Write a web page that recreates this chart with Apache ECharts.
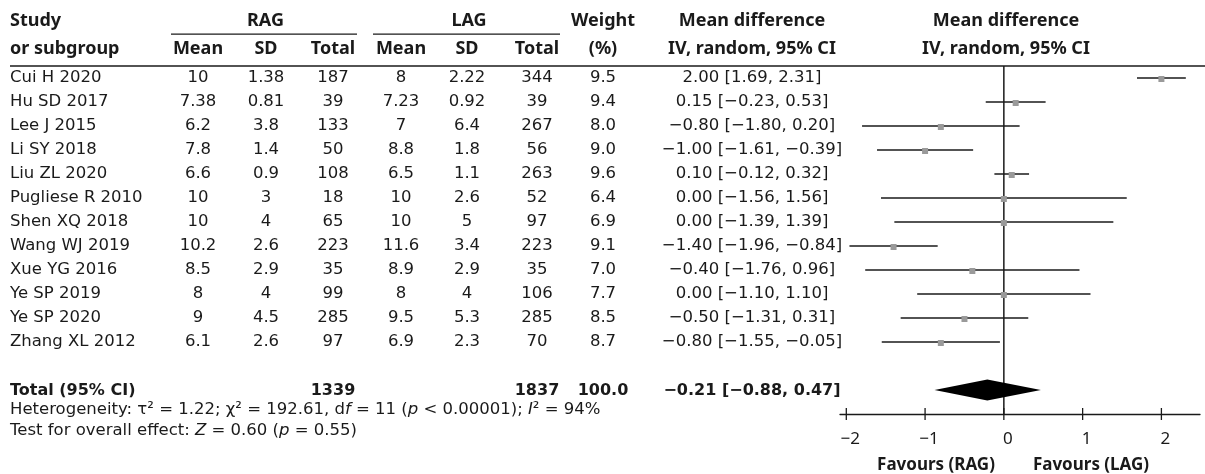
<!DOCTYPE html>
<html>
<head>
<meta charset="utf-8">
<script src="https://cdn.jsdelivr.net/npm/echarts@6/dist/echarts.min.js"></script>
<style>html,body{margin:0;padding:0;background:#fff}#c{width:1205px;height:474px}</style>
</head>
<body>
<div id="c"></div>
<script>
// ---------------- DATA ----------------
const studies = ['Cui H 2020','Hu SD 2017','Lee J 2015','Li SY 2018','Liu ZL 2020','Pugliese R 2010','Shen XQ 2018','Wang WJ 2019','Xue YG 2016','Ye SP 2019','Ye SP 2020','Zhang XL 2012'];
const ragMean  = ['10','7.38','6.2','7.8','6.6','10','10','10.2','8.5','8','9','6.1'];
const ragSD    = ['1.38','0.81','3.8','1.4','0.9','3','4','2.6','2.9','4','4.5','2.6'];
const ragTotal = ['187','39','133','50','108','18','65','223','35','99','285','97'];
const lagMean  = ['8','7.23','7','8.8','6.5','10','10','11.6','8.9','8','9.5','6.9'];
const lagSD    = ['2.22','0.92','6.4','1.8','1.1','2.6','5','3.4','2.9','4','5.3','2.3'];
const lagTotal = ['344','39','267','56','263','52','97','223','35','106','285','70'];
const weights  = ['9.5','9.4','8.0','9.0','9.6','6.4','6.9','9.1','7.0','7.7','8.5','8.7'];
const md       = [2.00, 0.15, -0.80, -1.00, 0.10, 0.00, 0.00, -1.40, -0.40, 0.00, -0.50, -0.80];
const ciLow    = [1.69, -0.23, -1.80, -1.61, -0.12, -1.56, -1.39, -1.96, -1.76, -1.10, -1.31, -1.55];
const ciHigh   = [2.31, 0.53, 0.20, -0.39, 0.32, 1.56, 1.39, -0.84, 0.96, 1.10, 0.31, -0.05];
const totalLabel = 'Total (95% CI)';
const totalRAG = '1339';
const totalLAG = '1837';
const totalWeight = '100.0';
const pooled = [-0.21, -0.88, 0.47]; // estimate, low, high
const xTicks = [-2, -1, 0, 1, 2];
const favours = ['Favours (RAG)', 'Favours (LAG)'];
const groupHeaders = ['RAG', 'LAG'];
const subHeaders = ['Mean', 'SD', 'Total'];
const heterogeneity = 'Heterogeneity: τ² = 1.22; χ² = 192.61, d{i|f} = 11 ({i|p} < 0.00001); {i|I}² = 94%';
const overall = 'Test for overall effect: {i|Z} = 0.60 ({i|p} = 0.55)';

// ---------------- LAYOUT / STYLE ----------------
const NOTO = '"Noto Sans", "Open Sans", sans-serif';
const DEJA = '"DejaVu Sans", sans-serif';
const INK = '#1a1a1a';
const FONTS = {
  hdr:  {fontFamily: NOTO, fontSize: 18, fontWeight: 'bold'},
  data: {fontFamily: DEJA, fontSize: 16.5, fontWeight: 'normal'},
  tot:  {fontFamily: DEJA, fontSize: 16, fontWeight: 'bold'},
  fav:  {fontFamily: NOTO, fontSize: 17, fontWeight: 'bold'}
};
const C = {study:10, rMean:198, rSD:266, rTot:333, lMean:401, lSD:467, lTot:537, wt:603, md:752, plot:1006};
const R = {h1:-2.375, h2:-1.23, uline:-1.83, hline:-0.5, total:13.03, het:13.83, test:14.68, fav:16.125, axis:14};

const neg = v => (v < 0 ? '\u2212' : '') + Math.abs(v).toFixed(2);
const mdText = (m, l, h) => neg(m) + ' [' + neg(l) + ', ' + neg(h) + ']';

const cells = [];
function cell(t, x, r, a, k, rich) { cells.push({t, x, r, a: a || 'center', k: k || 'data', rich: !!rich}); }

// headers
cell('Study', C.study, R.h1, 'left', 'hdr');
cell('or subgroup', C.study, R.h2, 'left', 'hdr');
cell(groupHeaders[0], (C.rMean + C.rTot) / 2, R.h1, 'center', 'hdr');
cell(groupHeaders[1], (C.lMean + C.lTot) / 2, R.h1, 'center', 'hdr');
[C.rMean, C.rSD, C.rTot].forEach((x, i) => cell(subHeaders[i], x, R.h2, 'center', 'hdr'));
[C.lMean, C.lSD, C.lTot].forEach((x, i) => cell(subHeaders[i], x, R.h2, 'center', 'hdr'));
cell('Weight', C.wt, R.h1, 'center', 'hdr');
cell('(%)', C.wt, R.h2, 'center', 'hdr');
cell('Mean difference', C.md, R.h1, 'center', 'hdr');
cell('IV, random, 95% CI', C.md, R.h2, 'center', 'hdr');
cell('Mean difference', C.plot, R.h1, 'center', 'hdr');
cell('IV, random, 95% CI', C.plot, R.h2, 'center', 'hdr');

// study rows
studies.forEach((s, i) => {
  cell(s, C.study, i, 'left');
  cell(ragMean[i], C.rMean, i); cell(ragSD[i], C.rSD, i); cell(ragTotal[i], C.rTot, i);
  cell(lagMean[i], C.lMean, i); cell(lagSD[i], C.lSD, i); cell(lagTotal[i], C.lTot, i);
  cell(weights[i], C.wt, i);
  cell(mdText(md[i], ciLow[i], ciHigh[i]), C.md, i);
});
// total + footnotes
cell(totalLabel, C.study, R.total, 'left', 'tot');
cell(totalRAG, C.rTot, R.total, 'center', 'tot');
cell(totalLAG, C.lTot, R.total, 'center', 'tot');
cell(totalWeight, C.wt, R.total, 'center', 'tot');
cell(mdText(pooled[0], pooled[1], pooled[2]), C.md, R.total, 'center', 'tot');
cell(heterogeneity, C.study, R.het, 'left', 'data', true);
cell(overall, C.study, R.test, 'left', 'data', true);
cell(favours[0], 936, R.fav, 'center', 'fav');
cell(favours[1], 1091, R.fav, 'center', 'fav');

const rules = [ // [x1, x2, row]
  [171, 357, R.uline], [373, 560, R.uline], [10, 1205, R.hline]
];

const chart = echarts.init(document.getElementById('c'), null, {renderer: 'canvas'});
const yAx = idx => ({gridIndex: idx, type: 'value', min: -0.5, max: 14, inverse: true, show: false});

chart.setOption({
  animation: false,
  backgroundColor: '#fff',
  grid: [
    {left: 0, top: 66, width: 1205, height: 348},
    {left: 840, top: 66, width: 360, height: 348}
  ],
  xAxis: [
    {gridIndex: 0, type: 'value', min: 0, max: 1205, show: false},
    {gridIndex: 1, type: 'value', min: -2.08, max: 2.49,
      axisLine: {show: true, onZero: false, lineStyle: {color: INK, width: 1.3}},
      axisTick: {show: false},
      splitLine: {show: false},
      axisLabel: {customValues: xTicks, margin: 17, color: INK, fontSize: 17, fontFamily: NOTO,
        padding: [0, 0, 0, 8],
        formatter: v => (v < 0 ? '\u2212' : '') + Math.abs(v)}}
  ],
  yAxis: [yAx(0), yAx(1)],
  series: [
    { // table text
      type: 'custom', xAxisIndex: 0, yAxisIndex: 0, clip: false,
      data: cells.map(c => [c.x, c.r]),
      renderItem: (p, api) => {
        const c = cells[p.dataIndex];
        const pt = api.coord([c.x, c.r]);
        const f = FONTS[c.k];
        const style = Object.assign({text: c.t, fill: INK, align: c.a, verticalAlign: 'middle'}, f);
        if (c.rich) style.rich = {i: Object.assign({fontStyle: 'italic', fill: INK}, f)};
        return {type: 'text', x: pt[0], y: pt[1], style};
      }
    },
    { // rules
      type: 'custom', xAxisIndex: 0, yAxisIndex: 0, clip: false,
      data: rules,
      renderItem: (p, api) => {
        const a = api.coord([api.value(0), api.value(2)]);
        const b = api.coord([api.value(1), api.value(2)]);
        return {type: 'line', shape: {x1: a[0], y1: a[1], x2: b[0], y2: b[1]}, style: {stroke: INK, lineWidth: 1.4}};
      }
    },
    { // zero line
      type: 'custom', xAxisIndex: 1, yAxisIndex: 1, clip: false,
      data: [[0]],
      renderItem: (p, api) => {
        const a = api.coord([0, -0.5]);
        const b = api.coord([0, R.axis]);
        return {type: 'line', shape: {x1: a[0], y1: a[1], x2: b[0], y2: b[1]}, style: {stroke: INK, lineWidth: 1.5}};
      }
    },
    { // axis ticks crossing the axis
      type: 'custom', xAxisIndex: 1, yAxisIndex: 1, clip: false,
      data: xTicks.map(v => [v]),
      renderItem: (p, api) => {
        const a = api.coord([api.value(0), R.axis]);
        return {type: 'line', shape: {x1: a[0], y1: a[1] - 6, x2: a[0], y2: a[1] + 6}, style: {stroke: INK, lineWidth: 1.3}};
      }
    },
    { // CIs and squares
      type: 'custom', xAxisIndex: 1, yAxisIndex: 1, clip: false,
      data: md.map((m, i) => [m, ciLow[i], ciHigh[i], i]),
      renderItem: (p, api) => {
        const r = api.value(3);
        const l = api.coord([api.value(1), r]);
        const h = api.coord([api.value(2), r]);
        const m = api.coord([api.value(0), r]);
        const s = 6;
        return {type: 'group', children: [
          {type: 'line', shape: {x1: l[0], y1: l[1], x2: h[0], y2: h[1]}, style: {stroke: INK, lineWidth: 1.3}},
          {type: 'rect', shape: {x: m[0] - s / 2, y: m[1] - s / 2 + 1, width: s, height: s}, style: {fill: '#9a9a9a'}}
        ]};
      }
    },
    { // pooled diamond
      type: 'custom', xAxisIndex: 1, yAxisIndex: 1, clip: false,
      data: [[pooled[0], pooled[1], pooled[2], R.total]],
      renderItem: (p, api) => {
        const r = api.value(3);
        const c = api.coord([api.value(0), 13]);
        const l = api.coord([api.value(1), 13]);
        const h = api.coord([api.value(2), 13]);
        const hh = 10.5;
        return {type: 'polygon', shape: {points: [[l[0], l[1]], [c[0], c[1] - hh], [h[0], h[1]], [c[0], c[1] + hh]]}, style: {fill: '#000'}};
      }
    }
  ]
});
</script>
</body>
</html>
